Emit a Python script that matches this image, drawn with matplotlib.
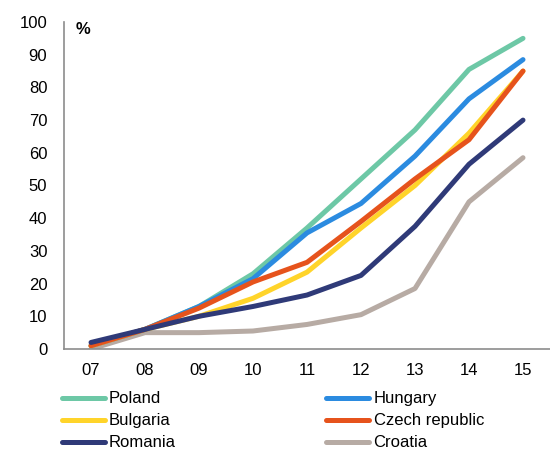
import matplotlib
matplotlib.use("Agg")
import matplotlib.pyplot as plt

years = ["07", "08", "09", "10", "11", "12", "13", "14", "15"]
poland = [1, 6, 13, 23, 37, 52, 67, 85.5, 95]
hungary = [1, 6, 13, 21.5, 35.5, 44.5, 59, 76.5, 88.5]
bulgaria = [1, 6, 10, 15.5, 23.5, 37, 50, 66, 85]
czech = [1, 6, 12.5, 20.5, 26.5, 39, 52, 64, 85]
romania = [2, 6, 10, 13, 16.5, 22.5, 37.5, 56.5, 70]
croatia = [0, 5, 5, 5.5, 7.5, 10.5, 18.5, 45, 58.5]

plt.rcParams["font.family"] = ["Liberation Sans", "DejaVu Sans"]

fig = plt.figure(figsize=(5.5, 4.51), dpi=100)
ax = fig.add_axes([0.1164, 0.2262, 0.8836, 0.725])

x = list(range(len(years)))
lw = 3.6
series = [
    ("Poland", poland, "#6DC8A6", 3),
    ("Hungary", hungary, "#2B8BE0", 4),
    ("Bulgaria", bulgaria, "#FFD42A", 5),
    ("Czech republic", czech, "#E6531C", 6),
    ("Romania", romania, "#2F3A78", 7),
    ("Croatia", croatia, "#B7ABA4", 2),
]
handles = {}
for name, vals, col, z in series:
    (h,) = ax.plot(x, vals, color=col, lw=lw, zorder=z, solid_capstyle="round")
    handles[name] = h

ax.set_xlim(-0.5, len(years) - 0.5)
ax.set_ylim(0, 100)
ax.set_xticks(x)
ax.set_xticklabels(years)
ax.set_yticks(range(0, 101, 10))
ax.tick_params(axis="both", length=0, labelsize=12, colors="#000000")
ax.tick_params(axis="y", pad=12)
ax.tick_params(axis="x", pad=10)
for s in ("top", "right"):
    ax.spines[s].set_visible(False)
for s in ("left", "bottom"):
    ax.spines[s].set_color("#8C8C8C")
    ax.spines[s].set_linewidth(1.2)

ax.text(0.024, 1.0, "%", transform=ax.transAxes, fontsize=12,
        fontweight="bold", va="top", ha="left")

# legend fills column by column: left column first, then right column
order = ["Poland", "Bulgaria", "Romania", "Hungary", "Czech republic", "Croatia"]
fig.legend([handles[n] for n in order], order, ncol=2, frameon=False,
           loc="upper left", bbox_to_anchor=(0.112, 0.132), fontsize=12,
           handlelength=2.6, handletextpad=0.25, labelspacing=0.42,
           columnspacing=9.0, borderpad=0, borderaxespad=0)

fig.savefig("out.png", dpi=100)
